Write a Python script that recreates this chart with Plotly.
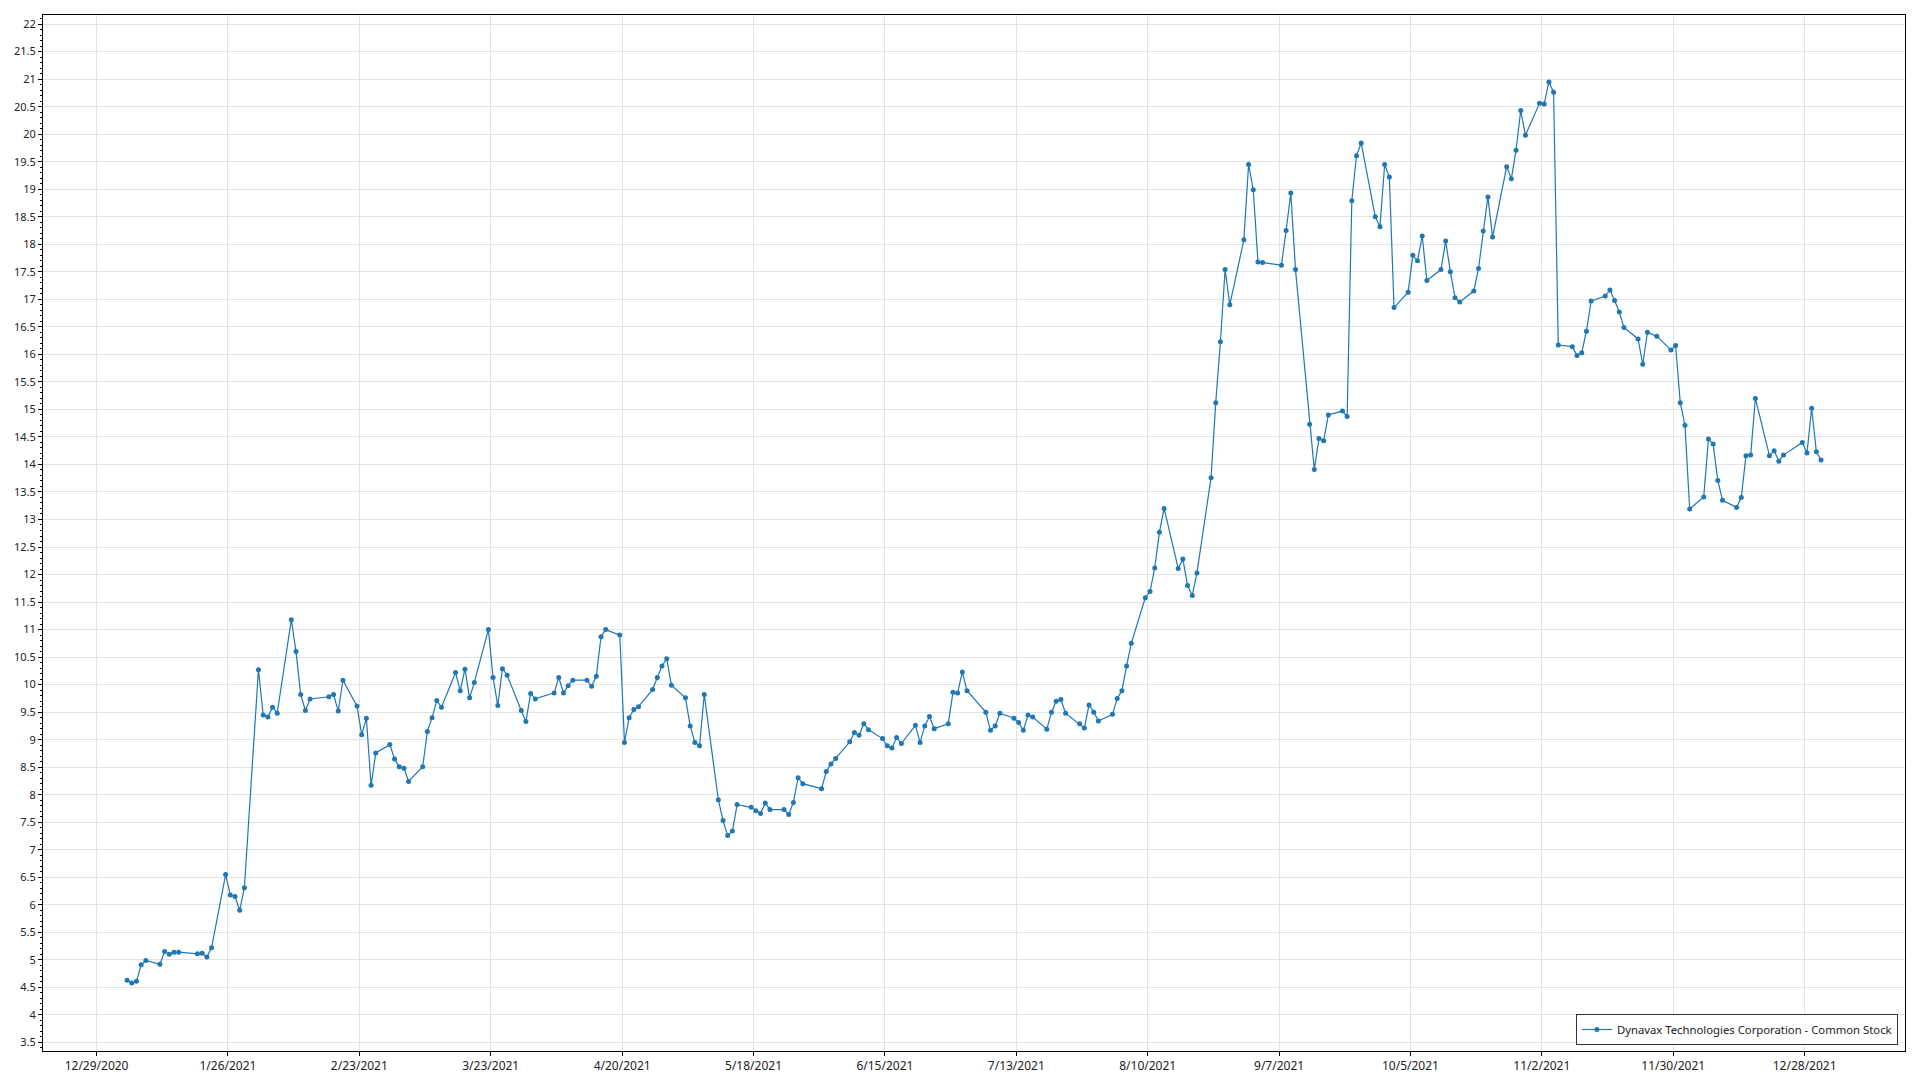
import pandas as pd
import plotly.graph_objects as go

series_name = "Dynavax Technologies Corporation - Common Stock"

jan_days = [4, 5, 6, 7, 8, 11, 12, 13, 14, 15, 19, 20, 21, 22, 25, 26, 27, 28, 29]
jan_vals = [4.63, 4.58, 4.61, 4.91, 4.99, 4.92, 5.15, 5.10, 5.14, 5.14, 5.11, 5.12, 5.05, 5.22, 6.55, 6.18, 6.15, 5.90, 6.31]
feb_days = [1, 2, 3, 4, 5, 8, 9, 10, 11, 12, 16, 17, 18, 19, 22, 23, 24, 25, 26]
feb_vals = [10.27, 9.45, 9.41, 9.59, 9.48, 11.18, 10.60, 9.82, 9.53, 9.74, 9.78, 9.82, 9.52, 10.08, 9.61, 9.09, 9.39, 8.17, 8.76]
mar_days = [1, 2, 3, 4, 5, 8, 9, 10, 11, 12, 15, 16, 17, 18, 19, 22, 23, 24, 25, 26, 29, 30, 31]
mar_vals = [8.91, 8.65, 8.51, 8.48, 8.24, 8.51, 9.15, 9.40, 9.71, 9.59, 10.22, 9.89, 10.28, 9.76, 10.04, 11.00, 10.13, 9.62, 10.29, 10.17, 9.53, 9.33, 9.84]
apr_days = [1, 5, 6, 7, 8, 9, 12, 13, 14, 15, 16, 19, 20, 21, 22, 23, 26, 27, 28, 29, 30]
apr_vals = [9.74, 9.85, 10.13, 9.85, 9.98, 10.08, 10.08, 9.97, 10.15, 10.87, 11.00, 10.90, 8.95, 9.40, 9.55, 9.60, 9.91, 10.13, 10.34, 10.47, 9.99]
may_days = [3, 4, 5, 6, 7, 10, 11, 12, 13, 14, 17, 18, 19, 20, 21, 24, 25, 26, 27, 28]
may_vals = [9.76, 9.25, 8.95, 8.89, 9.82, 7.91, 7.53, 7.26, 7.34, 7.82, 7.77, 7.71, 7.66, 7.85, 7.73, 7.73, 7.64, 7.86, 8.31, 8.20]
jun_days = [1, 2, 3, 4, 7, 8, 9, 10, 11, 14, 15, 16, 17, 18, 21, 22, 23, 24, 25, 28, 29, 30]
jun_vals = [8.11, 8.42, 8.56, 8.66, 8.96, 9.13, 9.08, 9.29, 9.18, 9.02, 8.89, 8.85, 9.04, 8.93, 9.26, 8.95, 9.25, 9.42, 9.20, 9.29, 9.86, 9.85]
jul_days = [1, 2, 6, 7, 8, 9, 12, 13, 14, 15, 16, 19, 20, 21, 22, 23, 26, 27, 28, 29, 30]
jul_vals = [10.23, 9.89, 9.50, 9.17, 9.25, 9.48, 9.39, 9.31, 9.17, 9.45, 9.41, 9.19, 9.50, 9.70, 9.73, 9.48, 9.29, 9.21, 9.63, 9.50, 9.34]
aug_days = [2, 3, 4, 5, 6, 9, 10, 11, 12, 13, 16, 17, 18, 19, 20, 23, 24, 25, 26, 27, 30, 31]
aug_vals = [9.46, 9.75, 9.89, 10.34, 10.75, 11.58, 11.69, 12.12, 12.77, 13.20, 12.11, 12.28, 11.80, 11.62, 12.03, 13.76, 15.12, 16.23, 17.54, 16.90, 18.08, 19.45]
sep_days = [1, 2, 3, 7, 8, 9, 10, 13, 14, 15, 16, 17, 20, 21, 22, 23, 24, 27, 28, 29, 30]
sep_vals = [18.99, 17.68, 17.67, 17.62, 18.25, 18.93, 17.54, 14.73, 13.91, 14.47, 14.43, 14.90, 14.97, 14.87, 18.79, 19.61, 19.84, 18.50, 18.32, 19.45, 19.22]
oct_days = [1, 4, 5, 6, 7, 8, 11, 12, 13, 14, 15, 18, 19, 20, 21, 22, 25, 26, 27, 28, 29]
oct_vals = [16.85, 17.13, 17.80, 17.70, 18.15, 17.34, 17.54, 18.06, 17.50, 17.03, 16.95, 17.15, 17.56, 18.24, 18.86, 18.13, 19.41, 19.19, 19.71, 20.43, 19.98]
nov_days = [1, 2, 3, 4, 5, 8, 9, 10, 11, 12, 15, 16, 17, 18, 19, 22, 23, 24, 26, 29, 30]
nov_vals = [20.56, 20.55, 20.95, 20.76, 16.17, 16.14, 15.98, 16.03, 16.42, 16.97, 17.06, 17.17, 16.98, 16.77, 16.49, 16.28, 15.82, 16.40, 16.33, 16.08, 16.16]
dec_days = [1, 2, 3, 6, 7, 8, 9, 10, 13, 14, 15, 16, 17, 20, 21, 22, 23, 27, 28, 29, 30, 31]
dec_vals = [15.12, 14.71, 13.19, 13.41, 14.46, 14.37, 13.71, 13.35, 13.22, 13.40, 14.16, 14.17, 15.20, 14.16, 14.25, 14.06, 14.17, 14.40, 14.21, 15.02, 14.23, 14.08]

tick_labels = ["12/29/2020", "1/26/2021", "2/23/2021", "3/23/2021", "4/20/2021", "5/18/2021",
               "6/15/2021", "7/13/2021", "8/10/2021", "9/7/2021", "10/5/2021", "11/2/2021",
               "11/30/2021", "12/28/2021"]

months = [(1, jan_days, jan_vals), (2, feb_days, feb_vals), (3, mar_days, mar_vals),
          (4, apr_days, apr_vals), (5, may_days, may_vals), (6, jun_days, jun_vals),
          (7, jul_days, jul_vals), (8, aug_days, aug_vals), (9, sep_days, sep_vals),
          (10, oct_days, oct_vals), (11, nov_days, nov_vals), (12, dec_days, dec_vals)]

dates, values = [], []
for m, ds, vs in months:
    for d, v in zip(ds, vs):
        dates.append(pd.Timestamp(2021, m, d))
        values.append(v)

# gridlines of the original sit half a day before the labelled date
tickvals = [pd.Timestamp(pd.to_datetime(t, format="%m/%d/%Y")) - pd.Timedelta(hours=12) for t in tick_labels]

font_family = "Noto Sans, Open Sans, sans-serif"

fig = go.Figure()
fig.add_trace(go.Scatter(
    x=dates, y=values, mode="lines+markers", name=series_name,
    line=dict(color="#1f77b4", width=1.2),
    marker=dict(color="#1f77b4", size=5),
    showlegend=True,
))

fig.update_layout(
    width=1920, height=1080,
    margin=dict(l=43, r=15, t=15, b=29, autoexpand=False),
    paper_bgcolor="white", plot_bgcolor="white",
    font=dict(family=font_family, size=12, color="#222222"),
    showlegend=True,
    legend=dict(
        x=0.9962, y=0.0058, xanchor="right", yanchor="bottom",
        bgcolor="white", bordercolor="#333333", borderwidth=1,
        font=dict(size=11.3, color="#222222"),
    ),
    xaxis=dict(
        range=[pd.Timestamp("2020-12-17 02:00"), pd.Timestamp("2022-01-17 21:20")],
        tickmode="array", tickvals=tickvals, ticktext=tick_labels,
        showgrid=True, gridcolor="#e3e3e3", gridwidth=1,
        showline=True, linecolor="#000000", linewidth=1, mirror=True,
        ticks="outside", ticklen=4, tickcolor="#000000",
        zeroline=False, automargin=False, tickfont=dict(size=12, color="#222222"),
    ),
    yaxis=dict(
        range=[3.344, 22.165],
        tickmode="linear", tick0=3.5, dtick=0.5,
        showgrid=True, gridcolor="#e3e3e3", gridwidth=1,
        showline=True, linecolor="#000000", linewidth=1, mirror=True,
        ticks="outside", ticklen=4, tickcolor="#000000",
        minor=dict(dtick=0.1, tick0=3.5, ticks="outside", ticklen=2, tickcolor="#000000", showgrid=False),
        zeroline=False, automargin=False, tickfont=dict(size=11, color="#222222"),
    ),
)

# remove the browser's default 8px body margin so the figure fills the window exactly
fig.write_html("out.html", config={"displayModeBar": False},
               post_script="document.body.style.margin='0';")
